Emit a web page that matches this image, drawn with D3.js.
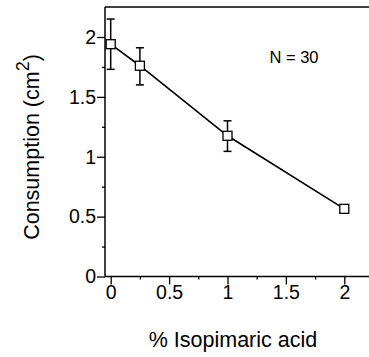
<!DOCTYPE html>
<html><head><meta charset="utf-8">
<script src="https://cdn.jsdelivr.net/npm/d3@7"></script>
<style>body{margin:0;background:#fff;} text{font-family:"Liberation Sans",Arial,sans-serif;fill:#000;}</style>
</head><body><svg id="c" width="369" height="357"></svg>
<script>
const concentrations = [0, 0.25, 1, 2];
const consumption = [1.94, 1.76, 1.175, 0.565];
const errUpper = [2.15, 1.91, 1.30, null];
const errLower = [1.73, 1.60, 1.045, null];
const xTicks = [0, 0.5, 1, 1.5, 2];
const xMinor = [0.25, 0.75, 1.25, 1.75];
const yTicks = [0, 0.5, 1, 1.5, 2];
const yMinor = [0.25, 0.75, 1.25, 1.75];

const svg = d3.select("#c");
const x = d3.scaleLinear().domain([0, 2]).range([110.7, 344.3]);
const y = d3.scaleLinear().domain([0, 2]).range([276.5, 37]);
const axX0 = 105, axYTop = 7, rightEdge = 369;
const fmt = d3.format("~g");

// axes
const gx = svg.append("g").attr("transform", `translate(0,${y(0)})`);
gx.call(d3.axisBottom(x).tickValues(xTicks).tickFormat(fmt).tickSize(8).tickPadding(1));
gx.append("g").call(d3.axisBottom(x).tickValues(xMinor).tickFormat("").tickSize(3));
gx.selectAll(".domain").remove();
gx.selectAll("line").attr("stroke", "#000").attr("stroke-width", 1.3);
gx.selectAll("text").attr("font-size", 19.5).attr("font-family", "Liberation Sans, Arial, sans-serif");

const gy = svg.append("g").attr("transform", `translate(${axX0},0)`);
gy.call(d3.axisLeft(y).tickValues(yTicks).tickFormat(fmt).tickSize(8).tickPadding(1));
gy.append("g").call(d3.axisLeft(y).tickValues(yMinor).tickFormat("").tickSize(3));
gy.selectAll(".domain").remove();
gy.selectAll("line").attr("stroke", "#000").attr("stroke-width", 1.3);
gy.selectAll("text").attr("font-size", 19.5).attr("font-family", "Liberation Sans, Arial, sans-serif");

svg.append("line").attr("x1", axX0).attr("x2", rightEdge).attr("y1", y(0)).attr("y2", y(0)).attr("stroke", "#000").attr("stroke-width", 1.5);
svg.append("line").attr("x1", axX0).attr("x2", axX0).attr("y1", axYTop).attr("y2", y(0)).attr("stroke", "#000").attr("stroke-width", 1.5);
svg.append("line").attr("x1", axX0).attr("x2", rightEdge).attr("y1", axYTop).attr("y2", axYTop).attr("stroke", "#000").attr("stroke-width", 1.5);

// line
const pts = concentrations.map((c, i) => ({x: c, y: consumption[i], hi: errUpper[i], lo: errLower[i]}));
svg.append("path").datum(pts)
  .attr("d", d3.line().x(d => x(d.x)).y(d => y(d.y)))
  .attr("fill", "none").attr("stroke", "#000").attr("stroke-width", 1.6);

// error bars
const eb = svg.append("g").selectAll("g").data(pts.filter(d => d.hi != null)).join("g");
eb.append("line").attr("x1", d => x(d.x)).attr("x2", d => x(d.x)).attr("y1", d => y(d.hi)).attr("y2", d => y(d.lo)).attr("stroke", "#000").attr("stroke-width", 1.5);
eb.append("line").attr("x1", d => x(d.x) - 4).attr("x2", d => x(d.x) + 4).attr("y1", d => y(d.hi)).attr("y2", d => y(d.hi)).attr("stroke", "#000").attr("stroke-width", 1.5);
eb.append("line").attr("x1", d => x(d.x) - 4).attr("x2", d => x(d.x) + 4).attr("y1", d => y(d.lo)).attr("y2", d => y(d.lo)).attr("stroke", "#000").attr("stroke-width", 1.5);

// markers
svg.append("g").selectAll("rect").data(pts).join("rect")
  .attr("x", d => x(d.x) - 4.5).attr("y", d => y(d.y) - 4.5)
  .attr("width", 9).attr("height", 9)
  .attr("fill", "#fff").attr("stroke", "#000").attr("stroke-width", 1.3);

// labels
svg.append("text").attr("x", 294).attr("y", 63).attr("text-anchor", "middle").attr("font-size", 16.5).text("N = 30");
svg.append("text").attr("x", 233).attr("y", 347).attr("text-anchor", "middle").attr("font-size", 21.5).text("% Isopimaric acid");
const yt = svg.append("text").attr("transform", "translate(39,147) rotate(-90)").attr("text-anchor", "middle").attr("font-size", 21.5);
yt.append("tspan").text("Consumption (cm");
yt.append("tspan").attr("baseline-shift", "super").attr("font-size", 18).text("2");
yt.append("tspan").text(")");
</script></body></html>
